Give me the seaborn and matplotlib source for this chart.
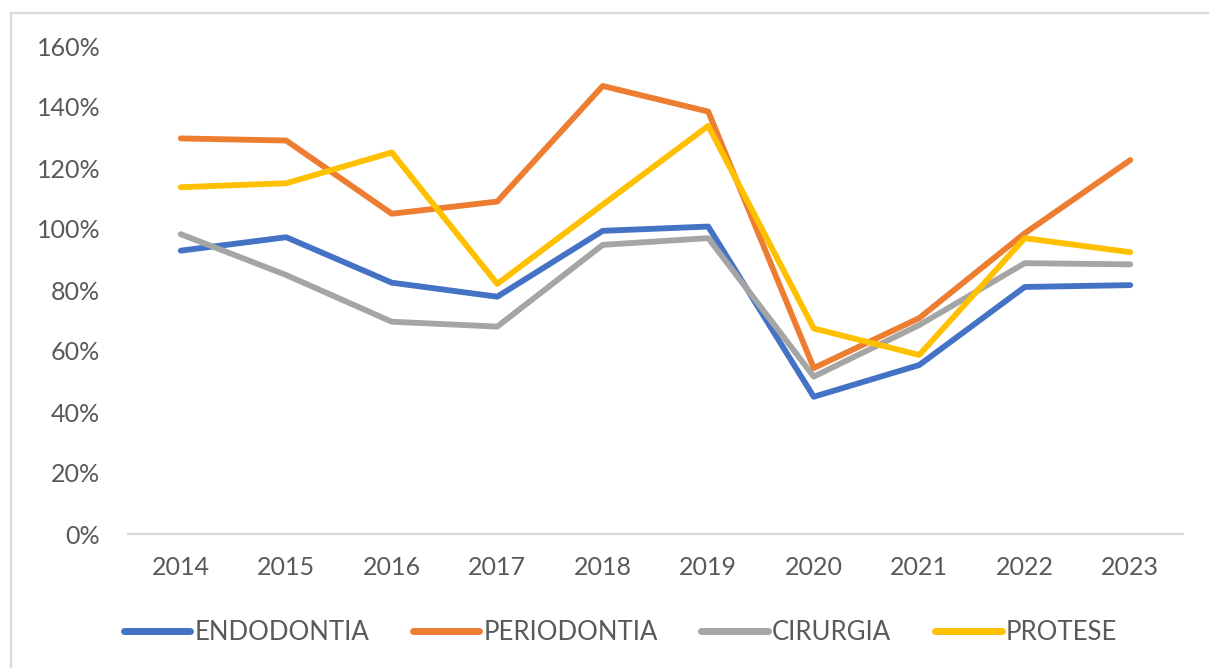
from matplotlib import pyplot as plt
from matplotlib.patches import Rectangle
from matplotlib.ticker import FixedLocator, PercentFormatter
import pandas as pd
import seaborn as sns

# values (percent)
years = [2014, 2015, 2016, 2017, 2018, 2019, 2020, 2021, 2022, 2023]
endodontia = [92.9, 97.3, 82.4, 77.8, 99.4, 100.8, 45.0, 55.4, 81.0, 81.6]
periodontia = [129.7, 129.0, 105.0, 109.0, 146.9, 138.5, 54.4, 70.8, 98.6, 122.6]
cirurgia = [98.3, 84.9, 69.6, 68.0, 94.8, 97.0, 51.6, 68.5, 88.8, 88.4]
protese = [113.7, 115.0, 125.1, 82.0, 108.0, 133.8, 67.4, 58.7, 97.0, 92.4]

series = ["ENDODONTIA", "PERIODONTIA", "CIRURGIA", "PROTESE"]
colors = ["#4472C4", "#ED7D31", "#A5A5A5", "#FFC000"]

rows = []
for name, vals in zip(series, [endodontia, periodontia, cirurgia, protese]):
    for i, v in enumerate(vals):
        rows.append({"pos": i, "valor": v, "serie": name})
df = pd.DataFrame(rows)

sns.set_style("white")
plt.rcParams["font.family"] = ["Lato", "DejaVu Sans"]
text_col = "#595959"

fig = plt.figure(figsize=(12.09, 6.68), dpi=100)
ax = fig.add_axes([128 / 1209, 1 - 534 / 668, (1183 - 128) / 1209, (534 - 46) / 668])

sns.lineplot(data=df, x="pos", y="valor", hue="serie", hue_order=series,
             palette=colors, linewidth=4.2, ax=ax, legend=False,
             solid_capstyle="round")

ax.set_xlim(-0.5, 9.5)
ax.set_ylim(0, 160)
ax.set_yticks(range(0, 161, 20))
ax.yaxis.set_major_formatter(PercentFormatter(decimals=0))
ax.set_xticks(range(len(years)))
ax.set_xticklabels([str(y) for y in years])
ax.xaxis.set_minor_locator(FixedLocator([i - 0.5 for i in range(len(years) + 1)]))
ax.set_xlabel("")
ax.set_ylabel("")

for s in ["top", "right", "left"]:
    ax.spines[s].set_visible(False)
ax.spines["bottom"].set_color("#D9D9D9")
ax.spines["bottom"].set_linewidth(1.6)

ax.tick_params(axis="y", length=0, pad=20, labelsize=18, labelcolor=text_col)
ax.tick_params(axis="x", which="major", length=0, pad=16, labelsize=18, labelcolor=text_col)
ax.tick_params(axis="x", which="minor", length=6, width=1.6, color="#D9D9D9", direction="out")

handles = [plt.Line2D([], [], color=c, lw=5, solid_capstyle="round") for c in colors]
fig.legend(handles, series, loc="center", bbox_to_anchor=(0.513, 1 - 632 / 668),
           ncol=4, frameon=False, fontsize=18.5, labelcolor=text_col,
           handlelength=2.6, handletextpad=0.15, columnspacing=1.7)

# light frame around the chart area
fig.patches.append(Rectangle((11 / 1209, -0.1), 1.2, 1 - 13 / 668 + 0.1,
                             transform=fig.transFigure, fill=False,
                             edgecolor="#D9D9D9", linewidth=1.6))

fig.savefig("out.png", dpi=100)
